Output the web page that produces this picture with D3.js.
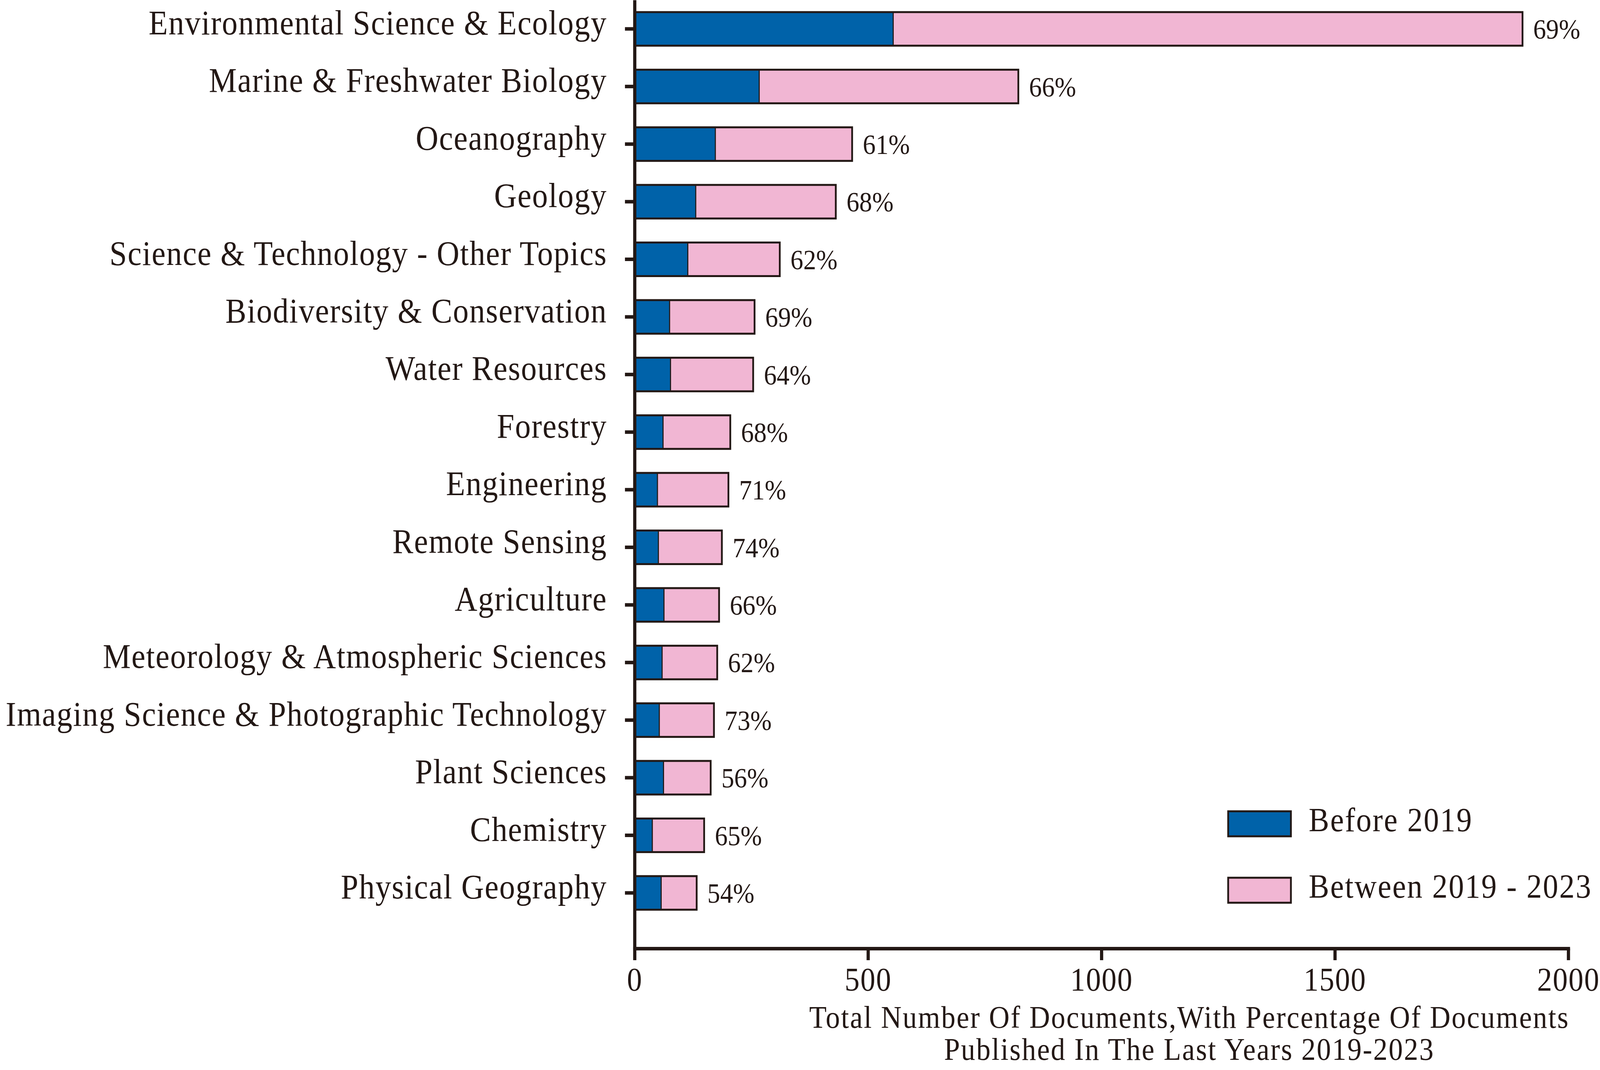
<!DOCTYPE html>
<html>
<head>
<meta charset="utf-8">
<script src="https://cdn.jsdelivr.net/npm/d3@7"></script>
<style>
  html, body { margin: 0; padding: 0; background: #ffffff; overflow: hidden; width: 100%; height: 100%; }
  svg { display: block; width: 100vw; height: 100vh; }
</style>
</head>
<body>
<script>
// ---------------- data ----------------
const categories = [
  "Environmental Science & Ecology",
  "Marine & Freshwater Biology",
  "Oceanography",
  "Geology",
  "Science & Technology - Other Topics",
  "Biodiversity & Conservation",
  "Water Resources",
  "Forestry",
  "Engineering",
  "Remote Sensing",
  "Agriculture",
  "Meteorology & Atmospheric Sciences",
  "Imaging Science & Photographic Technology",
  "Plant Sciences",
  "Chemistry",
  "Physical Geography"
];
const beforeValues  = [554, 267, 173, 131, 114, 75, 77, 61, 49, 51, 63, 59, 53, 62, 38, 57];
const betweenValues = [1348, 555, 293, 300, 197, 182, 177, 144, 152, 136, 118, 118, 117, 101, 111, 76];
const percentLabels = ["69%","66%","61%","68%","62%","69%","64%","68%","71%","74%","66%","62%","73%","56%","65%","54%"];
const xTicks = [0, 500, 1000, 1500, 2000];
const seriesNames = ["Before 2019", "Between 2019 - 2023"];
const titleLines = ["Total Number Of Documents,With Percentage Of Documents",
                    "Published In The Last Years 2019-2023"];

// ---------------- styling ----------------
const W = 4488, H = 2738;
const INK = "#231815";
const BLUE = "#0062A9";
const PINK = "#F1B6D3";
const FONT = "'Liberation Serif', 'Times New Roman', serif";

const svg = d3.select("body").append("svg")
  .attr("viewBox", `0 0 ${W} ${H}`)
  .attr("preserveAspectRatio", "none");
svg.append("rect").attr("width", W).attr("height", H).attr("fill", "#fff");

const x = d3.scaleLinear().domain([0, 2000]).range([1780, 4399]);
const y = d3.scaleBand().domain(categories).range([0, 2427])
  .paddingInner(0.417).paddingOuter(0.4415).align(0.238);

const rows = categories.map((c, i) => ({
  cat: c, before: beforeValues[i], between: betweenValues[i],
  total: beforeValues[i] + betweenValues[i], pct: percentLabels[i]
}));

// bars
const g = svg.append("g");
g.selectAll("rect.before").data(rows).join("rect")
  .attr("class", "before")
  .attr("x", x(0)).attr("y", d => y(d.cat))
  .attr("width", d => x(d.before) - x(0))
  .attr("height", y.bandwidth())
  .attr("fill", BLUE);
g.selectAll("rect.between").data(rows).join("rect")
  .attr("class", "between")
  .attr("x", d => x(d.before)).attr("y", d => y(d.cat))
  .attr("width", d => x(d.total) - x(d.before))
  .attr("height", y.bandwidth())
  .attr("fill", PINK);
g.selectAll("line.div").data(rows).join("line")
  .attr("class", "div")
  .attr("x1", d => x(d.before)).attr("x2", d => x(d.before))
  .attr("y1", d => y(d.cat)).attr("y2", d => y(d.cat) + y.bandwidth())
  .attr("stroke", INK).attr("stroke-width", 3);
g.selectAll("rect.outline").data(rows).join("rect")
  .attr("class", "outline")
  .attr("x", x(0)).attr("y", d => y(d.cat))
  .attr("width", d => x(d.total) - x(0))
  .attr("height", y.bandwidth())
  .attr("fill", "none").attr("stroke", INK).attr("stroke-width", 5);

// percent labels
g.selectAll("text.pct").data(rows).join("text")
  .attr("class", "pct")
  .attr("x", d => x(d.total) + 30)
  .attr("y", d => y(d.cat) + y.bandwidth() / 2)
  .attr("dy", "0.35em")
  .attr("font-family", FONT).attr("font-size", 72).attr("fill", INK)
  .text(d => d.pct);

// y axis
const yAxis = svg.append("g").attr("transform", `translate(${x(0)},0)`)
  .call(d3.axisLeft(y).tickSize(27).tickSizeOuter(0).tickPadding(50));
yAxis.select(".domain").attr("stroke", INK).attr("stroke-width", 9);
yAxis.selectAll(".tick line").attr("stroke", INK).attr("stroke-width", 9);
yAxis.selectAll(".tick text")
  .attr("font-family", FONT).attr("font-size", 88).attr("fill", INK)
  .attr("letter-spacing", 2).attr("dy", "0.16em");

// x axis
const xAxis = svg.append("g").attr("transform", `translate(0,${y.range()[1]})`)
  .call(d3.axisBottom(x).tickValues(xTicks).tickSize(30).tickSizeOuter(0).tickPadding(18)
        .tickFormat(d3.format("d")));
xAxis.select(".domain").attr("stroke", INK).attr("stroke-width", 9)
  .attr("stroke-linecap", "square");
xAxis.selectAll(".tick line").attr("stroke", INK).attr("stroke-width", 9);
xAxis.selectAll(".tick text")
  .attr("font-family", FONT).attr("font-size", 84).attr("fill", INK)
  .attr("letter-spacing", 2).attr("dy", "0.71em");

// axis title
const title = svg.append("text")
  .attr("font-family", FONT).attr("font-size", 80).attr("fill", INK)
  .attr("letter-spacing", 3).attr("text-anchor", "middle");
titleLines.forEach((t, i) => {
  title.append("tspan").attr("x", 3336).attr("y", 2630 + i * 82).text(t);
});

// legend
const legend = svg.append("g").attr("transform", "translate(3445,2076)");
const legItems = legend.selectAll("g").data(seriesNames).join("g")
  .attr("transform", (d, i) => `translate(0,${i * 170})`);
legItems.append("rect")
  .attr("width", 176).attr("height", 64)
  .attr("fill", (d, i) => i === 0 ? BLUE : PINK)
  .attr("stroke", INK).attr("stroke-width", 5);
legItems.append("text")
  .attr("x", 226).attr("y", 51)
  .attr("font-family", FONT).attr("font-size", 86).attr("fill", INK)
  .attr("letter-spacing", 3)
  .text(d => d);
</script>
</body>
</html>
